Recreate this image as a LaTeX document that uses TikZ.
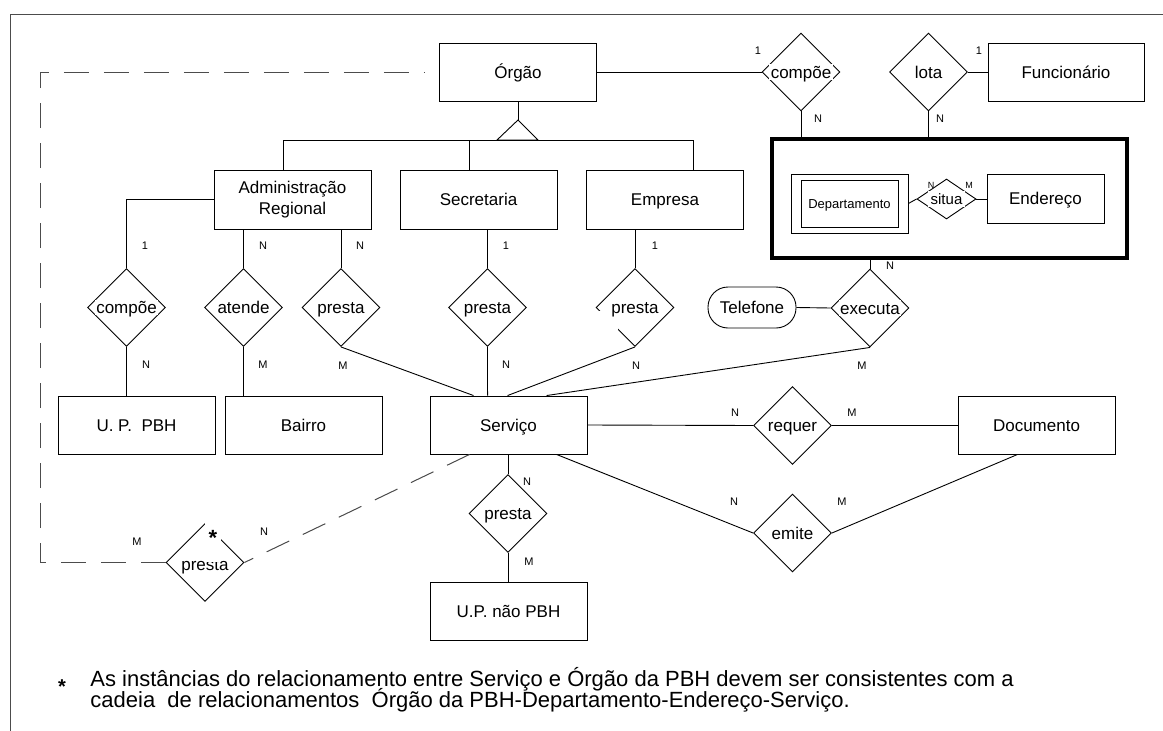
\documentclass[tikz,border=0pt]{standalone}
\usepackage{fontspec}
\setmainfont{Liberation Sans}
\usetikzlibrary{shapes.geometric,calc}
\tikzset{
  entbase/.style={draw, rectangle, minimum width=157pt, minimum height=58pt, inner sep=0pt, font=\fontsize{17}{21}\selectfont},
  ent/.style={entbase, text height=12.2pt, text depth=0pt},
  rel/.style={draw, diamond, minimum width=78pt, minimum height=78pt, inner sep=0pt},
  rlbl/.style={fill=white, inner sep=1.5pt, text height=12.2pt, text depth=0pt, font=\fontsize{17}{20}\selectfont},
  card/.style={font=\fontsize{11}{13}\selectfont, inner sep=0pt, text height=7.9pt, text depth=0pt},
  tiny/.style={font=\fontsize{9}{11}\selectfont, inner sep=0pt, text height=6.5pt, text depth=0pt},
  dashln/.style={draw=black!70, line width=1pt, dash pattern=on 25pt off 15pt},
  frame/.style={draw=black!70, line width=1pt},
  foot/.style={anchor=base west, inner sep=0pt, font=\fontsize{22}{22}\selectfont}
}
\begin{document}
\begin{tikzpicture}[x=1pt,y=-1pt,line width=0.9pt]
\useasboundingbox[fill=white] (0,0) rectangle (1163,731);
% frame
\coordinate (fbl) at (10,731);
\coordinate (ftl) at (10,14);
\coordinate (ftr) at (1163,14);
\draw[frame] (fbl) -- (ftl) -- (ftr);

% entities
\node[ent] (org) at (518,72) {Órgão};
\node[ent, minimum width=156pt] (func) at (1066,72) {Funcionário};
\node[entbase, minimum height=59pt, align=center] (adm) at (292.5,199.5) {Administração\\Regional};
\node[ent, minimum height=59pt] (sec) at (478.5,199.5) {Secretaria};
\node[ent, minimum height=59pt] (emp) at (665,199.5) {Empresa};
\node[ent] (upbh) at (136.5,425) {U. P.\ \ PBH};
\node[ent] (bairro) at (303.5,425) {Bairro};
\node[ent] (serv) at (508.5,425) {Serviço};
\node[ent] (doc) at (1036.5,425) {Documento};
\node[ent] (upn) at (508.5,611) {U.P. não PBH};
\node[ent, minimum width=117pt, minimum height=49pt] (end) at (1045.5,198.5) {Endereço};
\node[draw, minimum width=117pt, minimum height=59pt, inner sep=0pt] (depo) at (849.5,203.5) {};
\node[draw, minimum width=97pt, minimum height=47pt, inner sep=0pt, text height=9.3pt, text depth=0pt, font=\fontsize{13}{15}\selectfont] (dep) at (849.5,203.5) {Departamento};
\node[draw, line width=3.5pt, minimum width=355pt, minimum height=119pt, inner sep=0pt] (agg) at (949.5,198.5) {};
\node[draw, rounded corners=20pt, minimum width=88pt, minimum height=41pt, inner sep=0pt, text height=12.2pt, text depth=0pt, font=\fontsize{17}{20}\selectfont] (tel) at (752,307.5) {Telefone};

% relationships
\node[rel] (cmp1) at (801,72) {};
\node[rel] (lota) at (928.5,72) {};
\node[rel] (cmp2) at (126.5,307.5) {};
\node[rel] (atd) at (243.5,307.5) {};
\node[rel] (p1) at (341,307.5) {};
\node[rel] (p2) at (487.5,307.5) {};
\node[rel] (p3) at (635,307.5) {};
\node[rel] (exe) at (870,308) {};
\node[rel] (req) at (792.5,425.5) {};
\node[rel] (emi) at (792.5,533) {};
\node[rel] (p4) at (508,513.5) {};
\node[rel] (p5) at (205,562.5) {};
\node[draw, diamond, minimum width=59pt, minimum height=40pt, inner sep=0pt] (sit) at (946.5,199) {};

% gap in the lower-left edge of the Empresa relationship
\fill[white] (599,311) rectangle (618,331);

\node[rlbl] (tcmp1) at (cmp1) {compõe};
\node[rlbl] (tlota) at (lota) {lota};
\node[rlbl] (tcmp2) at (cmp2) {compõe};
\node[rlbl] (tatd) at (atd) {atende};
\node[rlbl] (tp1) at (p1) {presta};
\node[rlbl] (tp2) at (p2) {presta};
\node[rlbl] (tp3) at (p3) {presta};
\node[rlbl] (texe) at (exe) {executa};
\node[rlbl] (treq) at (req) {requer};
\node[rlbl] (temi) at (emi) {emite};
\node[rlbl] (tp4) at (p4) {presta};
\node[rlbl] (tp5) at (205,564) {presta};
\node[rlbl, font=\fontsize{15}{18}\selectfont, text height=10.7pt, inner sep=3pt] (tsit) at (sit) {situa};
% asterisk over the starred relationship
\node[fill=white, inner sep=0pt, minimum width=16pt, minimum height=39pt] (starbox) at (213,542.5) {};
\node[inner sep=0pt, font=\fontsize{22}{22}\selectfont\bfseries] (star) at (213,538) {*};

% ISA
\coordinate (isa) at (518,120);
\coordinate (isal) at (497,140);
\coordinate (isar) at (538,140);
\coordinate (barl) at (283,140);
\coordinate (barr) at (693,140);
\coordinate (barm) at (469,140);
\draw (org.south) -- (isa);
\draw (isa) -- (isal) -- (isar) -- cycle;
\draw (barl) -- (barr);
\draw (barl) -- (barl |- adm.north);
\draw (barm) -- (barm |- sec.north);
\draw (barr) -- (barr |- emp.north);

% top connectors
\draw (org.east) -- (cmp1.west);
\draw (lota.east) -- (func.west);
\draw (cmp1.south) -- (cmp1.south |- agg.north);
\draw (lota.south) -- (lota.south |- agg.north);
\draw (dep.east -| depo.east) -- (sit.west);
\draw (sit.east) -- (sit.east -| end.west);

% second row
\draw (adm.west) -| (cmp2.north);
\draw (atd.north |- adm.south) -- (atd.north);
\draw (p1.north |- adm.south) -- (p1.north);
\draw (p2.north |- sec.south) -- (p2.north);
\draw (p3.north |- emp.south) -- (p3.north);
\draw (exe.north |- agg.south) -- (exe.north);
\draw (tel.east) -- (exe.west);

\draw (cmp2.south) -- (cmp2.south |- upbh.north);
\draw (atd.south) -- (atd.south |- bairro.north);
\draw (p1.south) -- ($(serv.north west)+(44,0)$);
\draw (p2.south) -- ($(serv.north west)+(58,0)$);
\draw (p3.south) -- ($(serv.north west)+(78,0)$);
\draw (exe.south) -- ($(serv.north west)+(117,0)$);

\draw (serv.east) -- (req.west);
\draw (req.east) -- (req.east -| doc.west);
\draw ($(serv.south west)+(127,0)$) -- (emi.west);
\draw ($(doc.south west)+(60,0)$) -- (emi.east);
\draw (serv.south -| p4.north) -- (p4.north);
\draw (p4.south) -- (p4.south |- upn.north);

% dashed relationship
\coordinate (dcorner) at (40,562.5);
\draw[dashln] ($(serv.south west)+(40,0)$) -- (p5.east);
\draw[dashln, shorten >=14pt] (p5.west) -- (dcorner) |- (org.west);

% cardinalities
\node[card] (c1) at (758,51) {1};
\node[card] (c2) at (818,119) {N};
\node[card] (c3) at (979,51) {1};
\node[card] (c4) at (940,119) {N};
\node[card] (c5) at (145,246) {1};
\node[card] (c6) at (263,246) {N};
\node[card] (c7) at (360,246) {N};
\node[card] (c8) at (506,246) {1};
\node[card] (c9) at (655,246) {1};
\node[card] (c10) at (890,266) {N};
\node[card] (c11) at (146,365) {N};
\node[card] (c12) at (263,365) {M};
\node[card] (c13) at (343,366) {M};
\node[card] (c14) at (506,365) {N};
\node[card] (c15) at (636,366) {N};
\node[card] (c16) at (862,366) {M};
\node[card] (c17) at (735,413) {N};
\node[card] (c18) at (852,413) {M};
\node[card] (c19) at (734,502) {N};
\node[card] (c20) at (842,502) {M};
\node[card] (c21) at (527,482) {N};
\node[card] (c22) at (529,562) {M};
\node[card] (c23) at (264,532) {N};
\node[card] (c24) at (137,542) {M};
\node[tiny] (c25) at (931,185) {N};
\node[tiny] (c26) at (969,185) {M};

% footnote
\node[anchor=base, inner sep=0pt, font=\fontsize{20}{20}\selectfont\bfseries] (fstar) at (62,693) {*};
\node[foot] (f1) at (90,686) {As instâncias do relacionamento entre Serviço e Órgão da PBH devem ser consistentes com a};
\node[foot] (f2) at (90,707) {cadeia\ \ de relacionamentos\ \ Órgão da PBH-Departamento-Endereço-Serviço.};
\end{tikzpicture}
\end{document}
